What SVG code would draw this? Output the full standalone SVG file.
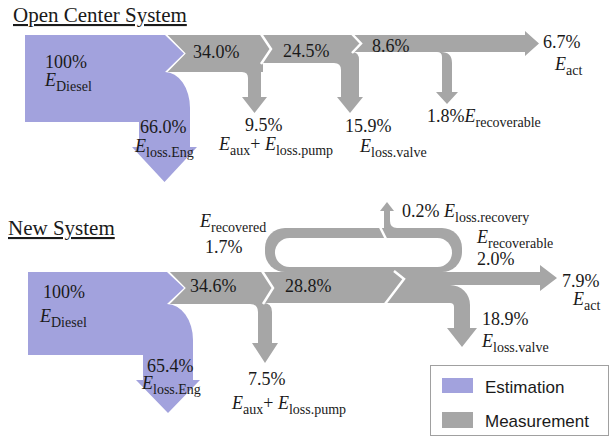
<svg xmlns="http://www.w3.org/2000/svg" width="611" height="437" viewBox="0 0 611 437">
<style>
.b{fill:#a2a2dd}
.g{fill:#a6a6a6}
.w{fill:none;stroke:#fff;stroke-width:2.5;stroke-linejoin:miter}
.t{font-size:18px;fill:#1a1a1a}
.i{font-style:italic}
.s{font-size:14px}
.h{font-size:21px;fill:#1a1a1a;text-decoration:underline}
.l{font-size:17px;fill:#1a1a1a}
</style>
<g id="titles" font-family="Liberation Serif, Times New Roman, serif">
<text class="h" x="13" y="22">Open Center System</text>
<text class="h" x="8" y="235">New System</text>
</g>

<g id="connectors">
  <path class="g" d="M165,35 H263 V72 H165 L184,53.5 Z"/>
  <path class="g" d="M236,60 H261 V97 H267 L254.5,113 L242,97 H248 V78 Q248,72 242,72 H236 Z"/>
  <path class="g" d="M262,35 H353 V63 H262 Z"/>
  <path class="g" d="M330,45 H352 V52 Q359,52 359,60 V97 H363 L350,113 L337,97 H341 V70 Q341,63 334,63 H330 Z"/>
  <path class="g" d="M352,35 H525 V31 L539,43.5 L525,56 V52 H352 Z"/>
  <path class="g" d="M420,45 H441 V52 Q452,52 452,63 V92 H458 L447,104 L436,92 H442 V57 Q442,52 437,52 H420 Z"/>
  <path class="w" d="M165,34 L184,53.5 L165,73"/>
  <path class="w" d="M261,34 L271,49 L261,64"/>
  <path class="w" d="M352,34 L361,43.5 L352,53"/>

  <rect class="g" x="265" y="228" width="197" height="44" rx="20"/>
  <rect x="275" y="238" width="177" height="29" rx="14.5" fill="#fff"/>
  <path class="g" d="M167,272 H265 V304 H167 L184,288 Z"/>
  <path class="g" d="M240,296 H263 V303 Q272,303 272,312 V343 H278 L265,363 L252,343 H258 V312 Q258,304 250,304 H240 Z"/>
  <path class="g" d="M262,272 H400 V303 H262 Z"/>
  <path class="g" d="M395,272 H540 V265 L557,278 L540,291 V285 H450 A20,20 0 0 1 470,305 V328 H477 L462,347 L447,328 H454 V307 A4,4 0 0 0 450,303 H395 Z"/>
  <path class="g" d="M384,211 H390 V221 Q390,228 397,228 V231 H384 Z"/>
  <path class="g" d="M380,211 H394 L387,202 Z"/>
  <path class="w" stroke-width="1.5" d="M380,227 L386,239"/>
  <path class="w" d="M167,271 L184,288 L167,305"/>
  <path class="w" d="M262,271 L273,288 L263,304"/>
  <path class="w" d="M394,271 L404,279 L385,304"/>
</g>

<g id="blue-nodes">
  <path id="oc-diesel-shape" class="b" d="M25,35 H165 L184,53.5 L165,72 A25,36 0 0 1 190,108 V147 H197 L164.5,182 L132,147 H139 V122 H25 Z"/>
  <path id="ns-diesel-shape" class="b" d="M28,272 H167 L184,288 L167,304 A26,36 0 0 1 193,340 V380 H200 L168,413 L136,380 H143 V355 H28 Z"/>
</g>

<g id="labels" font-family="Liberation Serif, Times New Roman, serif">
<g id="oc-diesel">
  <text class="t" x="45" y="68">100%</text>
  <text class="t" x="45" y="86"><tspan class="i">E</tspan><tspan class="s" dy="5">Diesel</tspan></text>
</g>
<g id="oc-loss-eng">
  <text class="t" x="140" y="133">66.0%</text>
  <text class="t" x="135" y="152"><tspan class="i">E</tspan><tspan class="s" dy="5">loss.Eng</tspan></text>
</g>
<g id="oc-labels">
  <text class="t" x="193" y="58">34.0%</text>
  <text class="t" x="283" y="57">24.5%</text>
  <text class="t" x="372" y="52">8.6%</text>
</g>
<g id="oc-aux">
  <text class="t" x="245" y="131">9.5%</text>
  <text class="t" x="219" y="150"><tspan class="i">E</tspan><tspan class="s" dy="5">aux</tspan><tspan dy="-5">+ </tspan><tspan class="i">E</tspan><tspan class="s" dy="5">loss.pump</tspan></text>
</g>
<g id="oc-valve">
  <text class="t" x="345" y="132">15.9%</text>
  <text class="t" x="360" y="152"><tspan class="i">E</tspan><tspan class="s" dy="5">loss.valve</tspan></text>
</g>
<g id="oc-recoverable">
  <text class="t" x="427" y="122">1.8%<tspan class="i">E</tspan><tspan class="s" dy="5">recoverable</tspan></text>
</g>
<g id="oc-act">
  <text class="t" x="543" y="48">6.7%</text>
  <text class="t" x="555" y="70"><tspan class="i">E</tspan><tspan class="s" dy="5">act</tspan></text>
</g>

<g id="ns-diesel">
  <text class="t" x="43" y="298">100%</text>
  <text class="t" x="40" y="322"><tspan class="i">E</tspan><tspan class="s" dy="5">Diesel</tspan></text>
</g>
<g id="ns-loss-eng">
  <text class="t" x="147" y="372">65.4%</text>
  <text class="t" x="142" y="389"><tspan class="i">E</tspan><tspan class="s" dy="5">loss.Eng</tspan></text>
</g>
<g id="ns-recovered">
  <text class="t" x="200" y="227"><tspan class="i">E</tspan><tspan class="s" dy="5">recovered</tspan></text>
  <text class="t" x="205" y="253">1.7%</text>
</g>
<g id="ns-labels">
  <text class="t" x="190" y="292">34.6%</text>
  <text class="t" x="285" y="292">28.8%</text>
</g>
<g id="ns-aux">
  <text class="t" x="248" y="385">7.5%</text>
  <text class="t" x="232" y="409"><tspan class="i">E</tspan><tspan class="s" dy="5">aux</tspan><tspan dy="-5">+ </tspan><tspan class="i">E</tspan><tspan class="s" dy="5">loss.pump</tspan></text>
</g>
<g id="ns-loss-recovery">
  <text class="t" x="402" y="217">0.2% <tspan class="i">E</tspan><tspan class="s" dy="5">loss.recovery</tspan></text>
</g>
<g id="ns-recoverable">
  <text class="t" x="477" y="243"><tspan class="i">E</tspan><tspan class="s" dy="5">recoverable</tspan></text>
  <text class="t" x="477" y="265">2.0%</text>
</g>
<g id="ns-act">
  <text class="t" x="562" y="287">7.9%</text>
  <text class="t" x="573" y="305"><tspan class="i">E</tspan><tspan class="s" dy="5">act</tspan></text>
</g>
<g id="ns-valve">
  <text class="t" x="482" y="325">18.9%</text>
  <text class="t" x="482" y="347"><tspan class="i">E</tspan><tspan class="s" dy="5">loss.valve</tspan></text>
</g>
</g>

<g id="legend" font-family="Liberation Sans, Arial, sans-serif">
  <rect x="430.5" y="365.5" width="178" height="70" fill="#fff" stroke="#a0a0a0"/>
  <rect class="b" x="442" y="378" width="31" height="15"/>
  <text class="l" x="485" y="393">Estimation</text>
  <rect class="g" x="442" y="412" width="31" height="16"/>
  <text class="l" x="485" y="427">Measurement</text>
</g>
</svg>
